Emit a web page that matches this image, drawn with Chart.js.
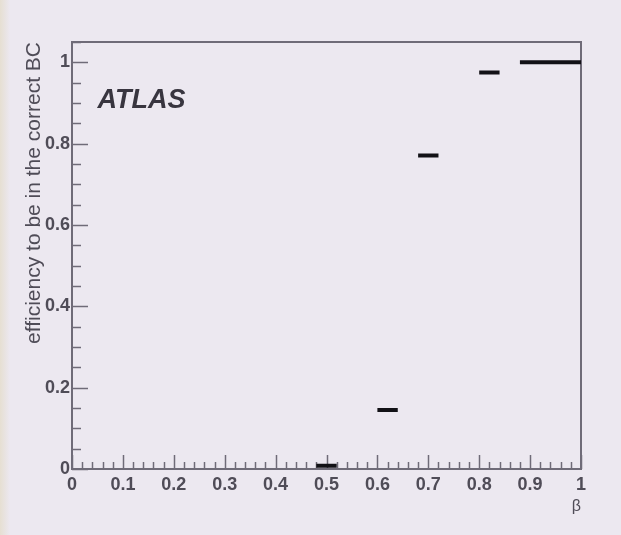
<!DOCTYPE html>
<html>
<head>
<meta charset="utf-8">
<script src="https://cdn.jsdelivr.net/npm/chart.js@4/dist/chart.umd.min.js"></script>
<style>
  html, body { margin: 0; padding: 0; }
  body { width: 621px; height: 535px; overflow: hidden;
         background: linear-gradient(to right, #e6dfd2 0px, #e9e4e4 6px, #ece8f0 10px); }
  #wrap { position: absolute; left: 0; top: 0; width: 621px; height: 535px; }
</style>
</head>
<body>
<div id="wrap"><canvas id="c" width="621" height="535"></canvas></div>
<script>
// ---- data ----
const binLow  = [0.48, 0.60, 0.68, 0.80, 0.88, 0.92, 0.96];
const binHigh = [0.52, 0.64, 0.72, 0.84, 0.92, 0.96, 1.00];
const efficiency = [0.008, 0.145, 0.771, 0.975, 1.0, 1.0, 1.0];

const xTickValues = [0, 0.1, 0.2, 0.3, 0.4, 0.5, 0.6, 0.7, 0.8, 0.9, 1];
const xTickLabels = ['0', '0.1', '0.2', '0.3', '0.4', '0.5', '0.6', '0.7', '0.8', '0.9', '1'];
const yTickValues = [0, 0.2, 0.4, 0.6, 0.8, 1];
const yTickLabels = ['0', '0.2', '0.4', '0.6', '0.8', '1'];
const xMinorStep = 0.02;
const yMinorStep = 0.05;

const xTitle = 'β';
const yTitle = 'efficiency to be in the correct BC';
const experimentLabel = 'ATLAS';

// build line points: one horizontal segment per bin, separated by gaps
const pts = [];
for (let i = 0; i < binLow.length; i++) {
  pts.push({ x: binLow[i], y: efficiency[i] });
  pts.push({ x: binHigh[i], y: efficiency[i] });
  pts.push({ x: binHigh[i], y: null });
}

const FRAME = '#6f6b78';
const TEXT = '#4f4c57';
const FONT = '"Liberation Sans", Arial, sans-serif';

const rootStyle = {
  id: 'rootStyle',
  beforeDatasetsDraw(chart) {
    const { ctx, chartArea: a, scales: { x, y } } = chart;
    ctx.save();
    ctx.strokeStyle = FRAME;
    ctx.lineWidth = 2;
    ctx.strokeRect(a.left, a.top, a.right - a.left, a.bottom - a.top);
    // y ticks (inward)
    ctx.beginPath();
    const nY = Math.round((y.max - y.min) / yMinorStep);
    for (let i = 0; i <= nY; i++) {
      const v = y.min + i * yMinorStep;
      if (v > y.max + 1e-9) break;
      const major = yTickValues.some(t => Math.abs(t - v) < 1e-6);
      const py = Math.round(y.getPixelForValue(v)) + 0.5;
      ctx.moveTo(a.left, py);
      ctx.lineTo(a.left + (major ? 16 : 9), py);
    }
    // x ticks (inward)
    const nX = Math.round((x.max - x.min) / xMinorStep);
    for (let i = 0; i <= nX; i++) {
      const v = x.min + i * xMinorStep;
      const major = xTickValues.some(t => Math.abs(t - v) < 1e-6);
      const px = Math.round(x.getPixelForValue(v)) + 0.5;
      ctx.moveTo(px, a.bottom);
      ctx.lineTo(px, a.bottom - (major ? 14 : 7));
    }
    ctx.lineWidth = 1.5;
    ctx.stroke();
    // experiment label
    ctx.fillStyle = '#38353f';
    ctx.font = 'italic bold 27px ' + FONT;
    ctx.textBaseline = 'middle';
    ctx.textAlign = 'left';
    ctx.fillText(experimentLabel, x.getPixelForValue(0.05), y.getPixelForValue(0.905));
    ctx.restore();
  }
};

new Chart(document.getElementById('c'), {
  type: 'line',
  data: {
    datasets: [{
      data: pts,
      borderColor: '#121116',
      borderWidth: 4,
      borderCapStyle: 'butt',
      pointRadius: 0,
      spanGaps: false,
      tension: 0
    }]
  },
  options: {
    responsive: false,
    animation: false,
    events: [],
    layout: { padding: { left: 0, right: 40, top: 42, bottom: 0 } },
    plugins: { legend: { display: false }, tooltip: { enabled: false } },
    scales: {
      x: {
        type: 'linear', min: 0, max: 1,
        afterFit(s) { s.height = 66; },
        afterBuildTicks(s) { s.ticks = xTickValues.map(v => ({ value: v })); },
        grid: { display: false, drawTicks: false },
        border: { display: false },
        ticks: {
          padding: 5, maxRotation: 0, autoSkip: false,
          color: TEXT,
          font: { family: FONT, size: 18, weight: 'bold' },
          callback(v) { const i = xTickValues.findIndex(t => Math.abs(t - v) < 1e-6); return i >= 0 ? xTickLabels[i] : ''; }
        },
        title: {
          display: true, text: xTitle, align: 'end', color: TEXT,
          font: { family: FONT, size: 16 },
          padding: { top: 0, bottom: 19 }
        }
      },
      y: {
        type: 'linear', min: 0, max: 1.05,
        afterFit(s) { s.width = 72; },
        afterBuildTicks(s) { s.ticks = yTickValues.map(v => ({ value: v })); },
        grid: { display: false, drawTicks: false },
        border: { display: false },
        ticks: {
          padding: 2, autoSkip: false,
          color: TEXT,
          font: { family: FONT, size: 18, weight: 'bold' },
          callback(v) { const i = yTickValues.findIndex(t => Math.abs(t - v) < 1e-6); return i >= 0 ? yTickLabels[i] : ''; }
        },
        title: {
          display: true, text: yTitle, align: 'end', color: TEXT,
          font: { family: FONT, size: 21 },
          padding: { top: 22, bottom: 0 }
        }
      }
    }
  },
  plugins: [rootStyle]
});
</script>
</body>
</html>
